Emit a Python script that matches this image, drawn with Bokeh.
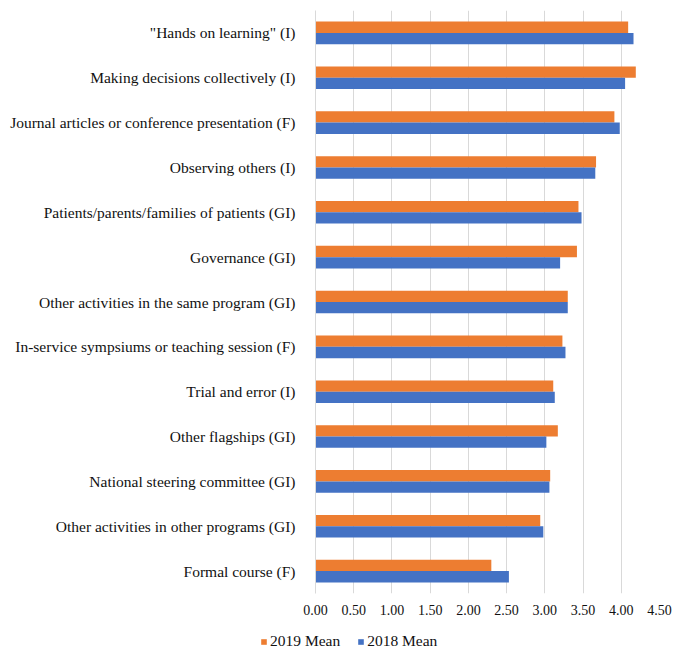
from bokeh.plotting import figure
from bokeh.layouts import column
from bokeh.models import (ColumnDataSource, FactorRange, Range1d, FixedTicker,
                          NumeralTickFormatter, Legend, LegendItem)
from bokeh.transform import dodge
from bokeh.embed import file_html
from bokeh.resources import INLINE

categories = [
    '"Hands on learning" (I)',
    "Making decisions collectively (I)",
    "Journal articles or conference presentation (F)",
    "Observing others (I)",
    "Patients/parents/families of patients (GI)",
    "Governance (GI)",
    "Other activities in the same program (GI)",
    "In-service sympsiums or teaching session (F)",
    "Trial and error (I)",
    "Other flagships (GI)",
    "National steering committee (GI)",
    "Other activities in other programs (GI)",
    "Formal course (F)",
]
mean_2019 = [4.09, 4.19, 3.91, 3.67, 3.44, 3.42, 3.30, 3.23, 3.11, 3.17, 3.07, 2.94, 2.30]
mean_2018 = [4.16, 4.05, 3.98, 3.66, 3.48, 3.20, 3.30, 3.27, 3.13, 3.02, 3.06, 2.98, 2.53]
x_ticks = [0.0, 0.5, 1.0, 1.5, 2.0, 2.5, 3.0, 3.5, 4.0, 4.5]
series_labels = ["2019 Mean", "2018 Mean"]

FONT = "Liberation Serif"
ORANGE = "#ED7D31"
BLUE = "#4472C4"
GRID = "#d9d9d9"
TEXT = "#111111"

src = ColumnDataSource(dict(cat=categories, y2019=mean_2019, y2018=mean_2018))

p = figure(width=673, height=620,
           y_range=FactorRange(factors=categories[::-1], range_padding=0),
           x_range=Range1d(0, 4.5),
           output_backend="svg", toolbar_location=None,
           min_border_left=315, min_border_right=14,
           min_border_top=10, min_border_bottom=27)
p.outline_line_color = None
p.frame_align = False

bh = 0.252
r19 = p.hbar(y=dodge("cat", bh / 2, range=p.y_range), left=0, right="y2019",
             height=bh, source=src, fill_color=ORANGE, line_color=None)
r18 = p.hbar(y=dodge("cat", -bh / 2, range=p.y_range), left=0, right="y2018",
             height=bh, source=src, fill_color=BLUE, line_color=None)

xa = p.xaxis[0]
xa.ticker = FixedTicker(ticks=x_ticks)
xa.formatter = NumeralTickFormatter(format="0.00")
xa.axis_line_color = None
xa.major_tick_line_color = None
xa.minor_tick_line_color = None
xa.major_label_standoff = 5
xa.major_label_text_font = FONT
xa.major_label_text_font_size = "14px"
xa.major_label_text_color = TEXT

ya = p.yaxis[0]
ya.axis_line_color = GRID
ya.major_tick_line_color = None
ya.minor_tick_line_color = None
ya.major_label_standoff = 14
ya.major_label_text_font = FONT
ya.major_label_text_font_size = "15.5px"
ya.major_label_text_color = TEXT

p.ygrid.grid_line_color = None
p.xgrid.ticker = FixedTicker(ticks=x_ticks)
p.xgrid.grid_line_color = GRID
p.xgrid.grid_line_width = 1

# legend strip below the chart
q = figure(width=673, height=31,
           y_range=FactorRange(factors=categories[::-1]),
           x_range=Range1d(10, 11),
           output_backend="svg", toolbar_location=None,
           x_axis_type=None, y_axis_type=None,
           min_border_left=0, min_border_right=0,
           min_border_top=0, min_border_bottom=0)
q.outline_line_color = None
q.frame_align = False
q.grid.visible = False
l19 = q.hbar(y="cat", left=0, right="y2019", height=bh, source=src,
             fill_color=ORANGE, line_color=None, visible=False)
l18 = q.hbar(y="cat", left=0, right="y2018", height=bh, source=src,
             fill_color=BLUE, line_color=None, visible=False)

legend = Legend(items=[LegendItem(label=series_labels[0], renderers=[l19]),
                       LegendItem(label=series_labels[1], renderers=[l18])],
                orientation="horizontal", location=(260, 1),
                glyph_width=7, glyph_height=7, label_standoff=3, spacing=17,
                label_height=18, padding=0, margin=0,
                inactive_fill_alpha=0,
                border_line_color=None, background_fill_alpha=0,
                label_text_font=FONT, label_text_font_size="15.5px",
                label_text_color=TEXT)
q.add_layout(legend, "center")

layout = column(p, q, spacing=0)
open("out.html", "w").write(file_html(layout, INLINE))
